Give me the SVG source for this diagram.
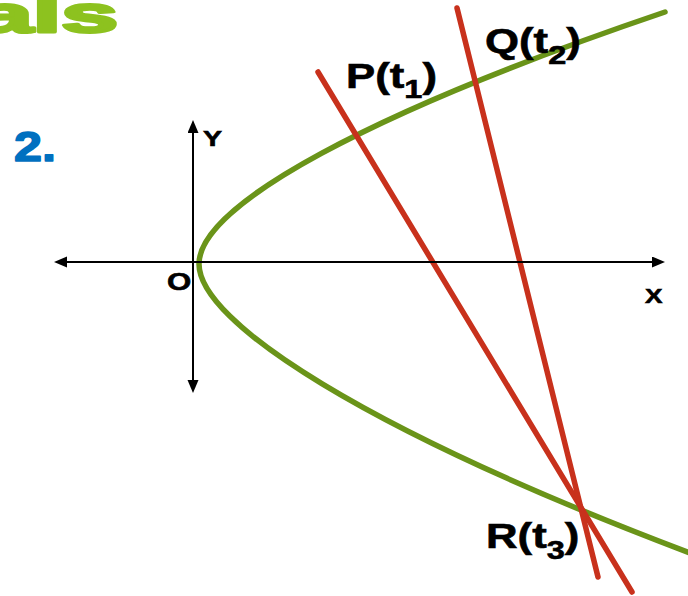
<svg xmlns="http://www.w3.org/2000/svg" width="688" height="596" viewBox="0 0 688 596">
<style>
.lbl{font-family:"Liberation Sans",Arial,sans-serif;font-weight:bold;fill:#000;stroke:#000;stroke-width:0.6}
.axis{stroke:#000;stroke-width:2;fill:none}
.curve{stroke:#6A9419;stroke-width:5.5;fill:none;stroke-linecap:round}
.secant{stroke:#C8311C;stroke-width:5.5;fill:none;stroke-linecap:round}
</style>
<defs>
<marker id="arr" markerUnits="userSpaceOnUse" markerWidth="14" markerHeight="12" refX="2" refY="5.5" orient="auto-start-reverse">
<path d="M0,0 L13,5.5 L0,11 z" fill="#000"/>
</marker>
</defs>
<rect width="688" height="596" fill="#fff"/>
<g id="heading">
<text x="-24" y="32" font-family="'Liberation Sans',Arial,sans-serif" font-weight="bold" font-size="52" fill="#8DC21F" stroke="#8DC21F" stroke-width="3" stroke-linejoin="round" textLength="142" lengthAdjust="spacingAndGlyphs">als</text>
<text x="14" y="161" font-family="'Liberation Sans',Arial,sans-serif" font-weight="bold" font-size="43" fill="#0070C0" stroke="#0070C0" stroke-width="1.5" stroke-linejoin="round" textLength="42" lengthAdjust="spacingAndGlyphs">2.</text>
</g>
<g id="parabola">
<path class="curve" d="M665,12 C370,112 199,205 199,264 C199,322 365,430 690,553"/>
</g>
<g id="connectors">
<line class="secant" x1="318" y1="72" x2="632" y2="592"/>
<line class="secant" x1="457" y1="8" x2="598" y2="577"/>
</g>
<g id="axes">
<line class="axis" x1="65" y1="262" x2="654" y2="262" marker-start="url(#arr)" marker-end="url(#arr)"/>
<line class="axis" x1="193" y1="131" x2="193" y2="382" marker-start="url(#arr)" marker-end="url(#arr)"/>
</g>
<g id="labels">
<text class="lbl" font-size="22" transform="translate(203,146) scale(1.3,1)">Y</text>
<text class="lbl" font-size="24" transform="translate(167,290) scale(1.3,1)">O</text>
<text class="lbl" font-size="21" transform="translate(645,303) scale(1.25,1)">X</text>
</g>
<g id="P">
<text class="lbl" font-size="35" transform="translate(346,88) scale(1.25,1)">P(t<tspan font-size="26" dy="10">1</tspan><tspan dy="-10">)</tspan></text>
</g>
<g id="Q">
<text class="lbl" font-size="35" transform="translate(485,53) scale(1.25,1)">Q(t<tspan font-size="26" dy="11">2</tspan><tspan dy="-11">)</tspan></text>
</g>
<g id="R">
<text class="lbl" font-size="35" transform="translate(486,548) scale(1.25,1)">R(t<tspan font-size="26" dy="11">3</tspan><tspan dy="-11">)</tspan></text>
</g>
</svg>
